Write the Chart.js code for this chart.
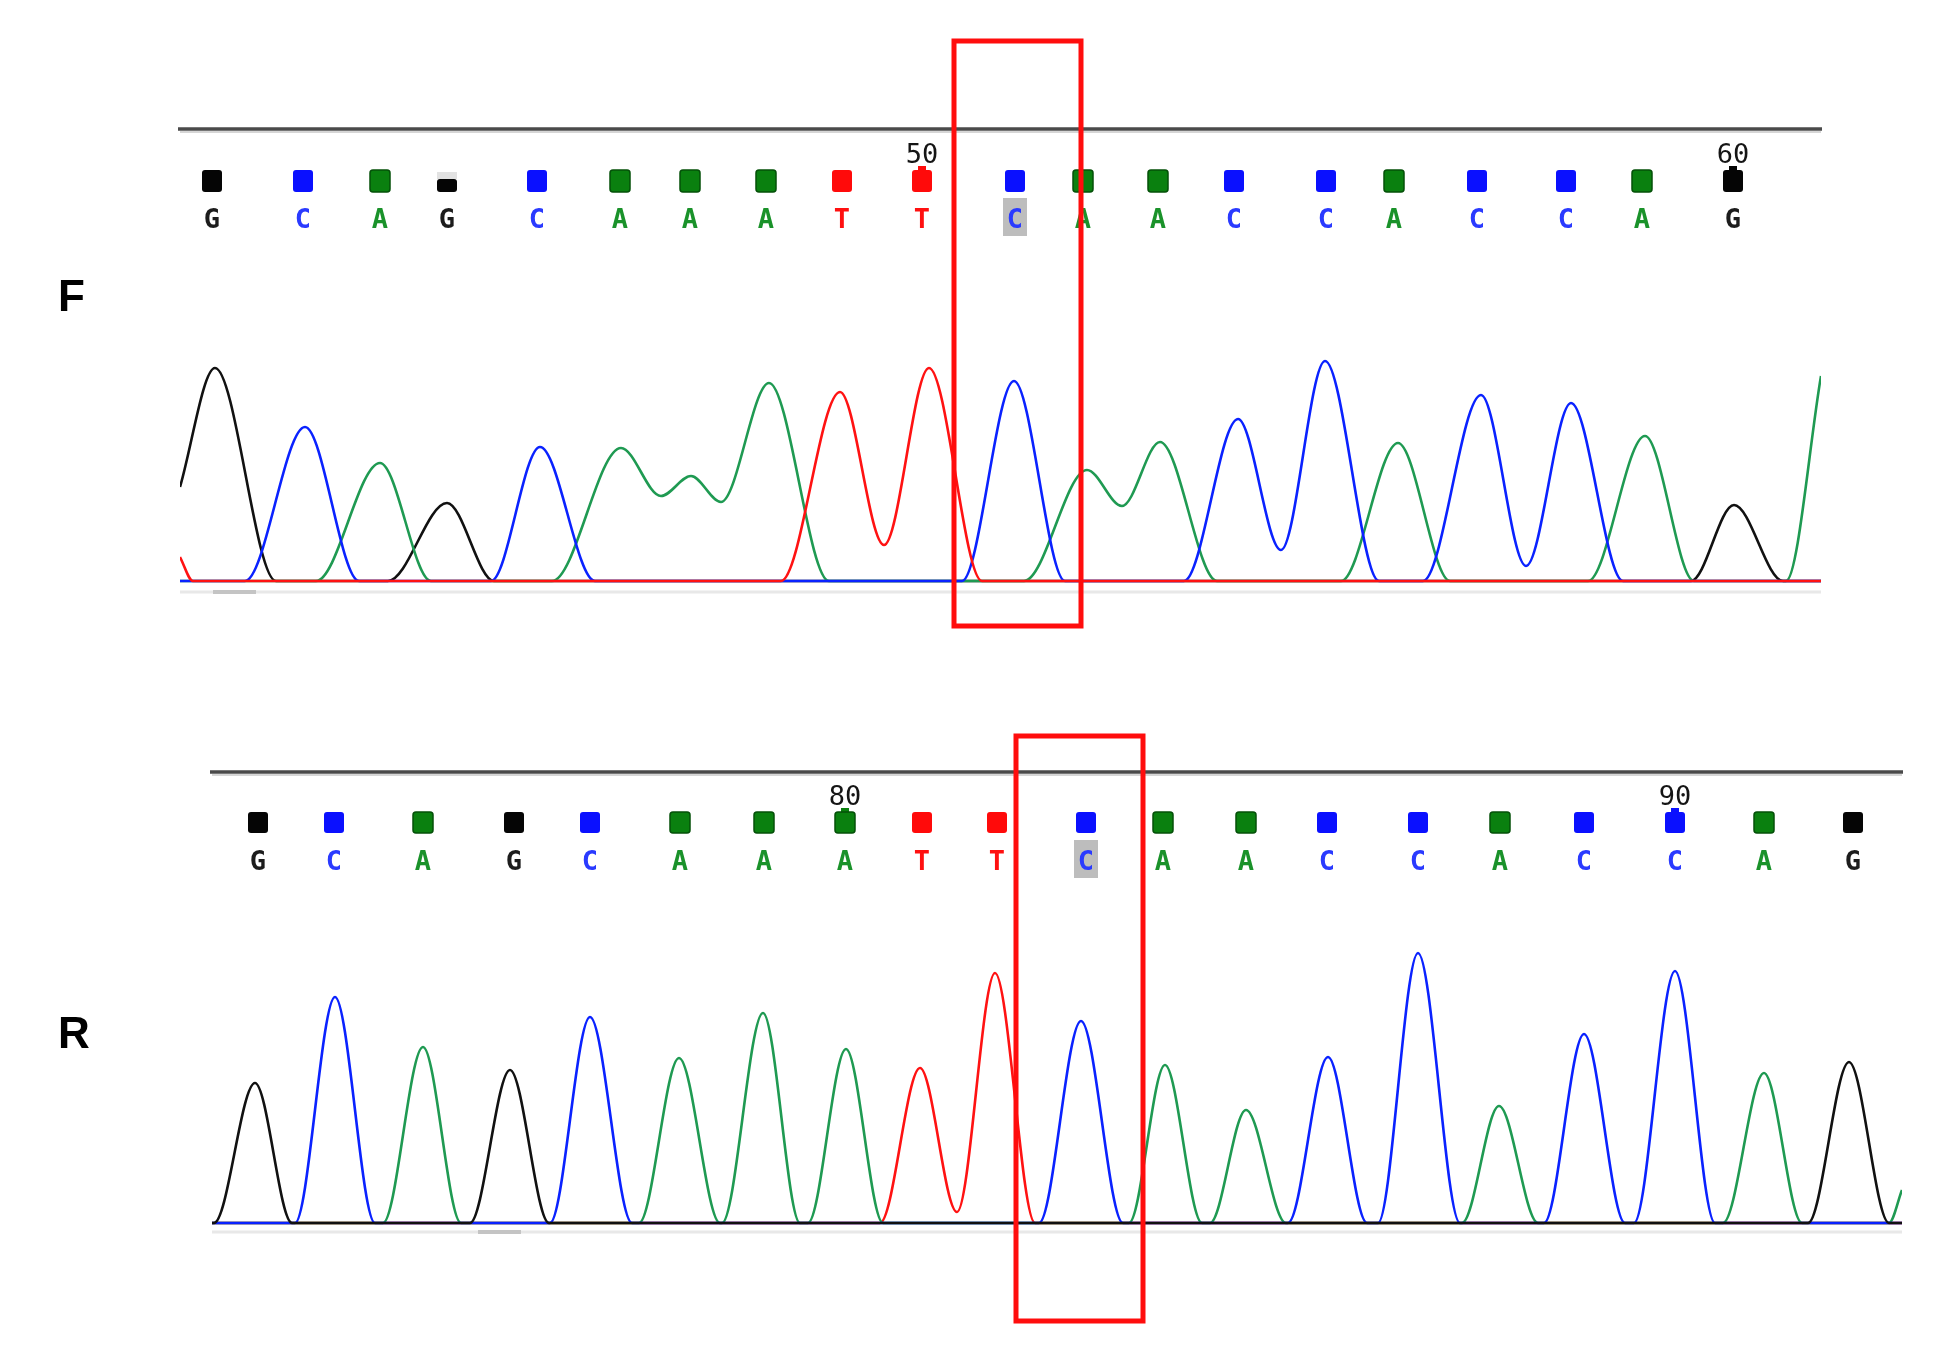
<!DOCTYPE html>
<html>
<head>
<meta charset="utf-8">
<script src="https://cdn.jsdelivr.net/npm/chart.js@4.4.1/dist/chart.umd.min.js"></script>
<style>
  body { margin: 0; background: #fff; }
  canvas { position: absolute; left: 0; }
</style>
</head>
<body>
<canvas id="chartF" width="1952" height="680" style="top:0"></canvas>
<canvas id="chartR" width="1952" height="680" style="top:680px"></canvas>
<script>
// base calls (same read in both directions)
const fBases = ['G','C','A','G','C','A','A','A','T','T','C','A','A','C','C','A','C','C','A','G'];
const fBasePos = [212,303,380,447,537,620,690,766,842,922,1015,1083,1158,1234,1326,1394,1477,1566,1642,1733];
const fFirstNumber = 41;
const fHighlight = 10;
const fBox = [954, 1081];

const rBases = ['G','C','A','G','C','A','A','A','T','T','C','A','A','C','C','A','C','C','A','G'];
const rBasePos = [258,334,423,514,590,680,764,845,922,997,1086,1163,1246,1327,1418,1500,1584,1675,1764,1853];
const rFirstNumber = 73;
const rHighlight = 10;
const rBox = [1016, 1143];

// trace knots [scan, intensity] for the forward read
const fA = [[180,0],[316,0],[380,118],[431,0],[552,0],[621,133],[661,85],[691,105],[721,79],[769,198],[829,0],
  [1024,0],[1087,111],[1122,75],[1160,139],[1217,0],[1341,0],[1398,138],[1450,0],[1588,0],[1645,145],[1694,0],[1786,0],[1821,205]];
const fC = [[180,0],[245,0],[305,154],[359,0],[491,0],[540,134],[595,0],[962,0],[1014,200],[1065,0],[1184,0],
  [1238,162],[1281,31],[1325,220],[1379,0],[1423,0],[1481,186],[1526,15],[1571,178],[1623,0],[1821,0]];
const fG = [[180,94],[215,213],[276,0],[388,0],[447,78],[494,0],[1691,0],[1734,76],[1783,0],[1821,0]];
const fT = [[180,24],[193,0],[781,0],[840,189],[884,36],[929,213],[982,0],[1821,0]];

// trace knots for the reverse read
const rA = [[212,0],[383,0],[423,176],[461,0],[639,0],[679,165],[720,0],[722,0],[763,210],[800,0],[808,0],[846,174],[883,0],
  [1129,0],[1165,158],[1202,0],[1210,0],[1246,113],[1286,0],[1462,0],[1499,117],[1538,0],[1723,0],[1764,150],[1802,0],[1889,0],[1902,33]];
const rC = [[212,0],[295,0],[335,226],[375,0],[550,0],[590,206],[632,0],[1039,0],[1081,202],[1123,0],[1288,0],[1328,166],[1367,0],
  [1378,0],[1418,270],[1460,0],[1544,0],[1584,189],[1625,0],[1634,0],[1675,252],[1715,0],[1902,0]];
const rG = [[212,0],[214,0],[255,140],[292,0],[470,0],[510,153],[549,0],[1808,0],[1849,161],[1889,0],[1902,0]];
const rT = [[212,0],[880,0],[920,155],[957,11],[995,250],[1035,0],[1902,0]];

const traceColors = { A: '#1f9a52', C: '#0a22ff', G: '#111111', T: '#ff1212' };
const squareColors = { A: '#0a800f', C: '#0a10ff', G: '#050505', T: '#ff0a0a' };
const letterColors = { A: '#1a922a', C: '#2a3aff', G: '#1c1c1c', T: '#ff1010' };

function makePanel(id, cfg) {
  const deco = {
    id: 'chrom_' + id,
    beforeDatasetsDraw(chart) {
      const ctx = chart.ctx, a = chart.chartArea;
      ctx.save();
      ctx.strokeStyle = '#e8e8e8';
      ctx.lineWidth = 3;
      ctx.beginPath();
      ctx.moveTo(a.left, cfg.grayY);
      ctx.lineTo(a.right, cfg.grayY);
      ctx.stroke();
      ctx.strokeStyle = '#c4c4c4';
      ctx.lineWidth = 4;
      ctx.beginPath();
      ctx.moveTo(cfg.grayDash[0], cfg.grayY);
      ctx.lineTo(cfg.grayDash[1], cfg.grayY);
      ctx.stroke();
      ctx.restore();
    },
    afterDatasetsDraw(chart) {
      const ctx = chart.ctx, a = chart.chartArea, xs = chart.scales.x;
      ctx.save();
      // top rule
      ctx.strokeStyle = '#d6d6d6';
      ctx.lineWidth = 2;
      ctx.beginPath();
      ctx.moveTo(a.left, cfg.lineY + 3);
      ctx.lineTo(a.right, cfg.lineY + 3);
      ctx.stroke();
      ctx.strokeStyle = '#4a4a4a';
      ctx.lineWidth = 3.5;
      ctx.beginPath();
      ctx.moveTo(a.left - 2, cfg.lineY);
      ctx.lineTo(a.right + 1, cfg.lineY);
      ctx.stroke();

      // base call squares, letters, numbers
      cfg.bases.forEach((b, i) => {
        const px = xs.getPixelForValue(cfg.pos[i]);
        const num = cfg.first + i;
        if (num % 10 === 0) {
          ctx.fillStyle = '#151515';
          ctx.font = '27px "DejaVu Sans Mono"';
          ctx.textAlign = 'center';
          ctx.textBaseline = 'alphabetic';
          ctx.fillText(String(num), px, cfg.numBase);
          ctx.fillStyle = squareColors[b];
          ctx.fillRect(px - 4, cfg.sqTop - 4, 8, 5);
        }
        ctx.fillStyle = squareColors[b];
        const short = cfg.short.includes(i);
        const top = short ? cfg.sqTop + 9 : cfg.sqTop;
        const h = short ? cfg.sqH - 9 : cfg.sqH;
        if (short) {
          ctx.fillStyle = '#e2e2e2';
          ctx.fillRect(px - 10, cfg.sqTop + 2, 20, 7);
          ctx.fillStyle = squareColors[b];
        }
        ctx.beginPath();
        ctx.roundRect(px - 10, top, 20, h, 3);
        ctx.fill();
        if (b === 'A') {
          ctx.strokeStyle = '#045008';
          ctx.lineWidth = 1.5;
          ctx.stroke();
        }
        if (i === cfg.highlight) {
          ctx.fillStyle = '#bdbdbd';
          ctx.fillRect(px - 12, cfg.letterBase - 30, 24, 38);
        }
        ctx.fillStyle = letterColors[b];
        ctx.font = 'bold 27px "DejaVu Sans Mono"';
        ctx.textAlign = 'center';
        ctx.textBaseline = 'alphabetic';
        ctx.fillText(b, px, cfg.letterBase);
      });

      // panel label
      ctx.fillStyle = '#000';
      ctx.font = 'bold 44px "Liberation Sans"';
      ctx.textAlign = 'left';
      ctx.fillText(cfg.label, cfg.labelX, cfg.labelBase);

      // highlight box
      const x0 = xs.getPixelForValue(cfg.box[0]);
      const x1 = xs.getPixelForValue(cfg.box[1]);
      ctx.strokeStyle = '#ff0d0d';
      ctx.lineWidth = 5;
      ctx.strokeRect(x0, cfg.boxY[0], x1 - x0, cfg.boxY[1] - cfg.boxY[0]);
      ctx.restore();
    }
  };

  const datasets = cfg.order.map(ch => ({
    label: ch,
    data: cfg.traces[ch].map(p => ({ x: p[0], y: p[1] })),
    borderColor: traceColors[ch],
    borderWidth: 2.6,
    pointRadius: 0,
    fill: false,
    cubicInterpolationMode: 'monotone'
  }));

  new Chart(document.getElementById(id), {
    type: 'line',
    data: { datasets: datasets },
    options: {
      responsive: false,
      animation: false,
      events: [],
      layout: { padding: cfg.padding },
      scales: {
        x: { type: 'linear', min: cfg.xMin, max: cfg.xMax, display: false },
        y: { min: cfg.yMin, max: cfg.yMax, display: false }
      },
      plugins: { legend: { display: false }, tooltip: { enabled: false } }
    },
    plugins: [deco]
  });
}

makePanel('chartF', {
  bases: fBases, pos: fBasePos, first: fFirstNumber, highlight: fHighlight, box: fBox, short: [3],
  traces: { A: fA, C: fC, G: fG, T: fT }, order: ['T', 'C', 'A', 'G'],
  xMin: 180, xMax: 1821, yMin: -60, yMax: 560,
  padding: { left: 180, right: 131, top: 21, bottom: 39 },
  lineY: 129, numBase: 163, sqTop: 170, sqH: 22, letterBase: 228,
  label: 'F', labelX: 58, labelBase: 311, boxY: [41, 626], grayY: 592, grayDash: [213, 256]
});

makePanel('chartR', {
  bases: rBases, pos: rBasePos, first: rFirstNumber, highlight: rHighlight, box: rBox, short: [],
  traces: { A: rA, C: rC, G: rG, T: rT }, order: ['G', 'C', 'A', 'T'],
  xMin: 212, xMax: 1902, yMin: -110, yMax: 520,
  padding: { left: 212, right: 50, top: 23, bottom: 27 },
  lineY: 92, numBase: 125, sqTop: 132, sqH: 21, letterBase: 190,
  label: 'R', labelX: 58, labelBase: 368, boxY: [56, 641], grayY: 552, grayDash: [478, 521]
});
</script>
</body>
</html>
